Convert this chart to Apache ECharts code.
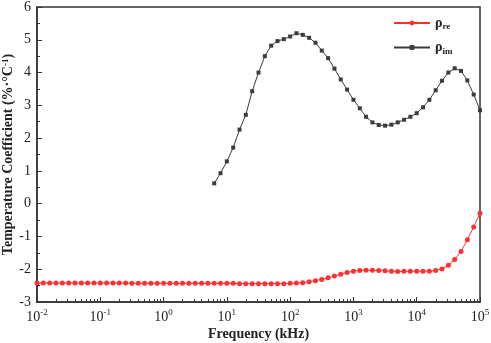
<!DOCTYPE html>
<html>
<head>
<meta charset="utf-8">
<style>
  html, body { margin: 0; padding: 0; background: #fff; }
  #chart { width: 491px; height: 343px; }
</style>
<script src="https://cdn.jsdelivr.net/npm/echarts@6/dist/echarts.min.js"></script>
</head>
<body>
<div id="chart"></div>
<script>
  // frequency exponents (log10 kHz), 10 points per decade
  const freqExp = [
    -2.0, -1.9, -1.8, -1.7, -1.6, -1.5, -1.4, -1.3, -1.2, -1.1,
    -1.0, -0.9, -0.8, -0.7, -0.6, -0.5, -0.4, -0.3, -0.2, -0.1,
    0.0, 0.1, 0.2, 0.3, 0.4, 0.5, 0.6, 0.7, 0.8, 0.9,
    1.0, 1.1, 1.2, 1.3, 1.4, 1.5, 1.6, 1.7, 1.8, 1.9,
    2.0, 2.1, 2.2, 2.3, 2.4, 2.5, 2.6, 2.7, 2.8, 2.9,
    3.0, 3.1, 3.2, 3.3, 3.4, 3.5, 3.6, 3.7, 3.8, 3.9,
    4.0, 4.1, 4.2, 4.3, 4.4, 4.5, 4.6, 4.7, 4.8, 4.9,
    5.0
  ]
  const rhoRe = [
    -2.42, -2.42, -2.42, -2.42, -2.42, -2.42, -2.42, -2.42, -2.42, -2.42,
    -2.42, -2.42, -2.42, -2.42, -2.42, -2.43, -2.43, -2.43, -2.43, -2.43,
    -2.43, -2.43, -2.43, -2.43, -2.43, -2.43, -2.43, -2.43, -2.43, -2.43,
    -2.43, -2.43, -2.44, -2.44, -2.44, -2.44, -2.44, -2.44, -2.44, -2.44,
    -2.43, -2.42, -2.41, -2.38, -2.35, -2.31, -2.26, -2.21, -2.15, -2.10,
    -2.06, -2.04, -2.03, -2.03, -2.04, -2.05, -2.06, -2.07, -2.06, -2.06,
    -2.06, -2.06, -2.06, -2.04, -1.99, -1.88, -1.70, -1.46, -1.10, -0.71,
    -0.29
  ]
  // imaginary part starts at 10^0.8 kHz
  const freqExpIm = freqExp.slice(28)
  const rhoIm = [
    0.62, 0.93,
    1.29, 1.71, 2.26, 2.71, 3.43, 4.00, 4.50, 4.82, 4.96, 5.02,
    5.10, 5.20, 5.15, 5.06, 4.91, 4.67, 4.44, 4.12, 3.79, 3.48,
    3.17, 2.91, 2.65, 2.48, 2.40, 2.38, 2.41, 2.48, 2.56, 2.65,
    2.76, 2.94, 3.17, 3.46, 3.75, 4.00, 4.13, 4.05, 3.76, 3.33,
    2.85
  ]
  const minorFreqTicks = []
  for (let d = -2; d < 5; d++) {
    for (let k = 2; k <= 9; k++) {
      minorFreqTicks.push(k * Math.pow(10, d))
    }
  }

  const toPoints = (exps, vals) => vals.map((v, i) => [Math.pow(10, exps[i]), v])

  const serif = 'Liberation Serif'
  const axisColor = '#333'

  const chart = echarts.init(document.getElementById('chart'))
  chart.setOption({
    animation: false,
    grid: {
      left: 37,
      right: 11,
      top: 7,
      bottom: 41,
      containLabel: false,
      outerBoundsMode: 'none',
      show: true,
      borderColor: axisColor,
      borderWidth: 1.5
    },
    legend: {
      orient: 'vertical',
      left: 388,
      top: 11,
      itemWidth: 36,
      itemHeight: 6,
      itemGap: 9,
      data: ['re', 'im'],
      formatter: function (name) {
        return '{p|ρ}{s|' + name + '}'
      },
      textStyle: {
        rich: {
          p: { fontFamily: serif, fontWeight: 'bold', fontSize: 14, color: '#222' },
          s: { fontFamily: serif, fontWeight: 'bold', fontSize: 9, color: '#222', padding: [8, 0, 0, 0] }
        }
      }
    },
    xAxis: [
      {
        type: 'log',
        logBase: 10,
        min: 0.01,
        max: 100000,
        name: 'Frequency (kHz)',
        nameLocation: 'middle',
        nameGap: 25,
        nameMoveOverlap: false,
        nameTextStyle: { fontFamily: serif, fontWeight: 'bold', fontSize: 14, color: '#222' },
        axisLine: { onZero: false, lineStyle: { color: axisColor, width: 1.5 } },
        axisTick: { inside: true, length: 5, lineStyle: { color: axisColor } },
        splitLine: { show: false },
        axisLabel: {
          margin: 6,
          formatter: function (v) {
            return '{b|10}{s|' + Math.round(Math.log10(v)) + '}'
          },
          rich: {
            b: { fontFamily: serif, fontSize: 14, color: '#222' },
            s: { fontFamily: serif, fontSize: 9, color: '#222', padding: [0, 0, 10, 0] }
          }
        }
      },
      {
        type: 'log',
        logBase: 10,
        min: 0.01,
        max: 100000,
        position: 'bottom',
        axisLine: { show: false, onZero: false },
        axisLabel: { show: false },
        splitLine: { show: false },
        axisTick: {
          inside: true,
          length: 3,
          customValues: minorFreqTicks,
          lineStyle: { color: axisColor }
        }
      }
    ],
    yAxis: {
      type: 'value',
      min: -3,
      max: 6,
      interval: 1,
      name: '{t|Temperature Coefficient (%·°C}{s|-1}{t|)}',
      nameLocation: 'middle',
      nameGap: 21,
      nameMoveOverlap: false,
      nameTextStyle: {
        rich: {
          t: { fontFamily: serif, fontWeight: 'bold', fontSize: 14, color: '#222' },
          s: { fontFamily: serif, fontWeight: 'bold', fontSize: 9, color: '#222', padding: [0, 0, 6, 0] }
        }
      },
      axisLine: { show: true, onZero: false, lineStyle: { color: axisColor, width: 1.5 } },
      axisTick: { inside: true, length: 5, lineStyle: { color: axisColor } },
      minorTick: { show: true, splitNumber: 2, length: 3, lineStyle: { color: axisColor } },
      splitLine: { show: false },
      axisLabel: { margin: 6, fontFamily: serif, fontSize: 14, color: '#222' }
    },
    series: [
      {
        name: 're',
        type: 'line',
        xAxisIndex: 0,
        data: toPoints(freqExp, rhoRe),
        symbol: 'circle',
        symbolSize: 5,
        color: '#ff3030',
        lineStyle: { width: 1 },
        z: 3
      },
      {
        name: 'im',
        type: 'line',
        xAxisIndex: 0,
        data: toPoints(freqExpIm, rhoIm),
        symbol: 'rect',
        symbolSize: 4,
        color: '#3c3c3c',
        lineStyle: { width: 1 },
        z: 2
      }
    ]
  })
</script>
</body>
</html>
